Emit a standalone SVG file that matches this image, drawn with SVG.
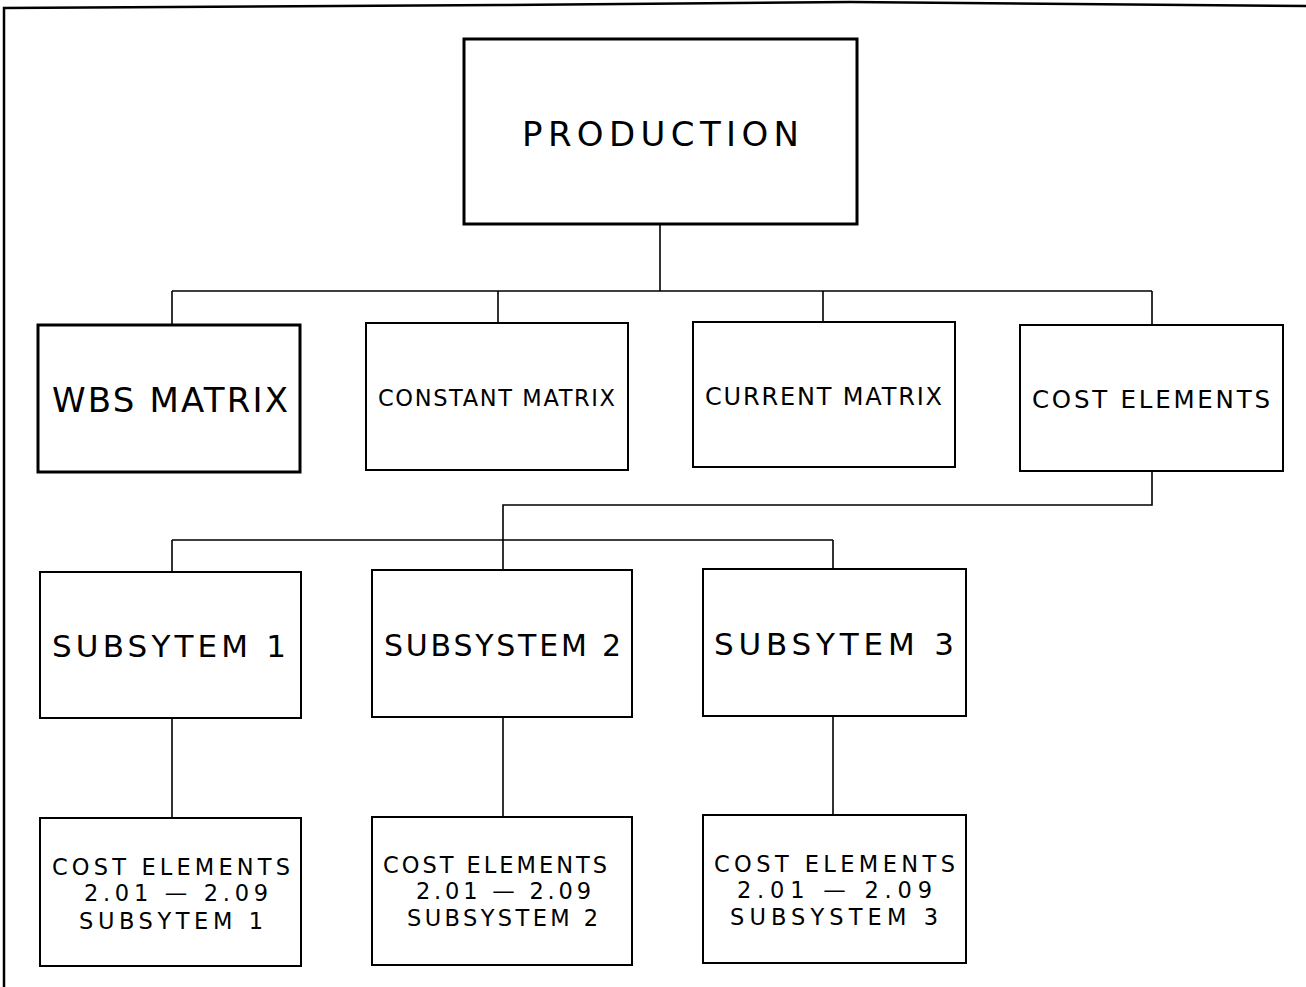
<svg xmlns="http://www.w3.org/2000/svg" width="1306" height="987" viewBox="0 0 1306 987">
<style>
.box{fill:#fff;stroke:#000;stroke-width:2}
.thick{stroke-width:3}
.conn{fill:none;stroke:#000;stroke-width:1.6}
text{font-family:"DejaVu Sans","Liberation Sans",sans-serif;fill:#000}
.sm{font-size:22.5px}
</style>
<rect width="1306" height="987" fill="#fff"/>
<g id="frame"><path d="M4,987 L4,8 L500,5 L850,2 L1306,6" fill="none" stroke="#000" stroke-width="2.5"/></g>
<g id="connectors">
<path class="conn" d="M660,225 V291 M172,291 H1152 M172,291 V325 M498,291 V323 M823,291 V322 M1152,291 V325"/>
<path class="conn" d="M1152,471 V505 H503 V570 M172,540 H833 M172,540 V572 M833,540 V569"/>
<path class="conn" d="M172,718 V818 M503,717 V817 M833,716 V815"/>
</g>
<g id="production"><rect class="box thick" x="464" y="39" width="393" height="185"/><text x="522" y="146" font-size="34" textLength="277" lengthAdjust="spacing">PRODUCTION</text></g>
<g id="wbs-matrix"><rect class="box thick" x="38" y="325" width="262" height="147"/><text x="52" y="412" font-size="34" textLength="236" lengthAdjust="spacing">WBS MATRIX</text></g>
<g id="constant-matrix"><rect class="box" x="366" y="323" width="262" height="147"/><text x="378" y="406" font-size="22.5" textLength="237" lengthAdjust="spacing">CONSTANT MATRIX</text></g>
<g id="current-matrix"><rect class="box" x="693" y="322" width="262" height="145"/><text x="705" y="405" font-size="24" textLength="237" lengthAdjust="spacing">CURRENT MATRIX</text></g>
<g id="cost-elements"><rect class="box" x="1020" y="325" width="263" height="146"/><text x="1032" y="408" font-size="24.5" textLength="238" lengthAdjust="spacing">COST ELEMENTS</text></g>
<g id="subsystem-1"><rect class="box" x="40" y="572" width="261" height="146"/><text x="52" y="657" font-size="31" textLength="234" lengthAdjust="spacing">SUBSYTEM 1</text></g>
<g id="subsystem-2"><rect class="box" x="372" y="570" width="260" height="147"/><text x="384" y="656" font-size="30" textLength="237" lengthAdjust="spacing">SUBSYSTEM 2</text></g>
<g id="subsystem-3"><rect class="box" x="703" y="569" width="263" height="147"/><text x="714" y="655" font-size="31" textLength="240" lengthAdjust="spacing">SUBSYTEM 3</text></g>
<g id="cost-elements-1"><rect class="box" x="40" y="818" width="261" height="148"/>
<text class="sm" x="52" y="875" textLength="238" lengthAdjust="spacing">COST ELEMENTS</text>
<text class="sm" x="84" y="901" textLength="184" lengthAdjust="spacing">2.01 — 2.09</text>
<text class="sm" x="79" y="929" textLength="184" lengthAdjust="spacing">SUBSYTEM 1</text></g>
<g id="cost-elements-2"><rect class="box" x="372" y="817" width="260" height="148"/>
<text class="sm" x="383" y="873" textLength="224" lengthAdjust="spacing">COST ELEMENTS</text>
<text class="sm" x="416" y="899" textLength="175" lengthAdjust="spacing">2.01 — 2.09</text>
<text class="sm" x="407" y="926" textLength="191" lengthAdjust="spacing">SUBSYSTEM 2</text></g>
<g id="cost-elements-3"><rect class="box" x="703" y="815" width="263" height="148"/>
<text class="sm" x="714" y="872" textLength="241" lengthAdjust="spacing">COST ELEMENTS</text>
<text class="sm" x="737" y="898" textLength="195" lengthAdjust="spacing">2.01 — 2.09</text>
<text class="sm" x="730" y="925" textLength="208" lengthAdjust="spacing">SUBSYSTEM 3</text></g>
</svg>
